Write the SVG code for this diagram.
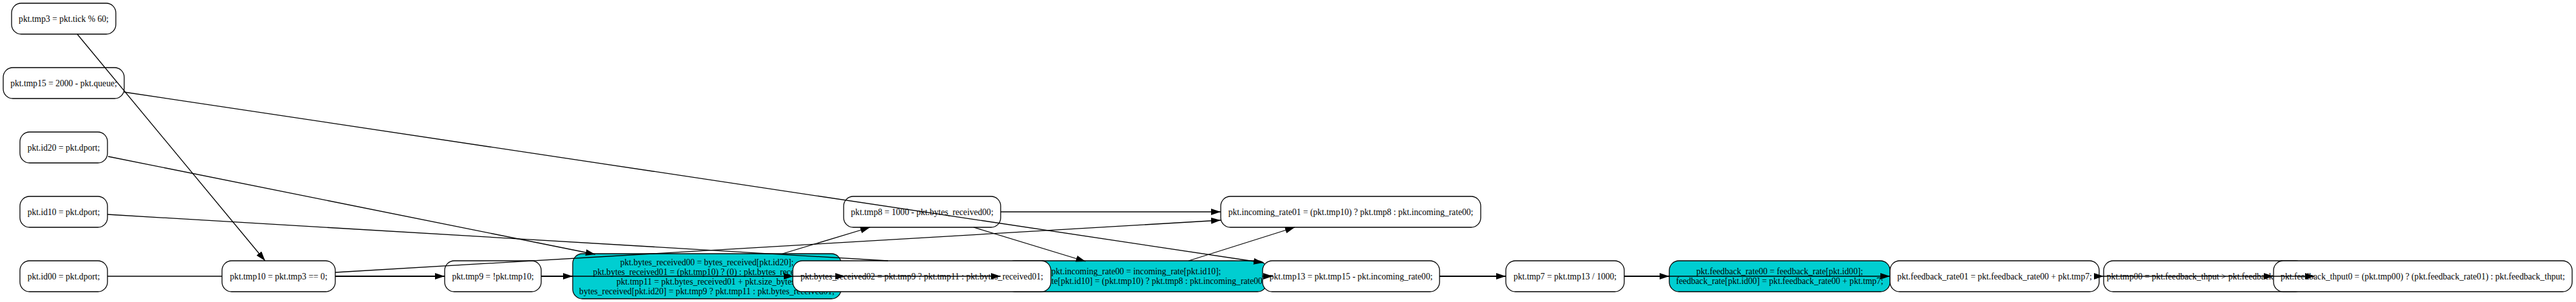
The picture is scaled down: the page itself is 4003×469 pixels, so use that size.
<svg xmlns="http://www.w3.org/2000/svg" width="4003" height="469" viewBox="0 0 4003 469">
<defs>
<marker id="ah" viewBox="0 0 15 10" refX="15" refY="5" markerWidth="15" markerHeight="10" markerUnits="userSpaceOnUse" orient="auto">
<path d="M0,0 L15,5 L0,10 z" fill="#000"/>
</marker>
<style>
.n rect{fill:#fff;stroke:#000;stroke-width:1.3}
.c rect{fill:#00CED1;stroke:#000;stroke-width:1.3}
text{font-family:"Liberation Serif","Times New Roman",serif;font-size:13.6px;fill:#000;text-anchor:middle}
.e line{stroke:#000;stroke-width:1.3;fill:none}
.e .a{marker-end:url(#ah)}
</style>
</defs>
<rect width="4003" height="469" fill="#fff"/>
<g id="n_tmp3" class="n"><rect x="18" y="5" width="162" height="48" rx="15"/><text x="99" y="34">pkt.tmp3 = pkt.tick % 60;</text></g>
<g id="n_tmp15" class="n"><rect x="5" y="105" width="188" height="48" rx="15"/><text x="99" y="134">pkt.tmp15 = 2000 - pkt.queue;</text></g>
<g id="n_id20" class="n"><rect x="31" y="205" width="136" height="48" rx="15"/><text x="99" y="234">pkt.id20 = pkt.dport;</text></g>
<g id="n_id10" class="n"><rect x="31" y="305" width="136" height="48" rx="15"/><text x="99" y="334">pkt.id10 = pkt.dport;</text></g>
<g id="n_id00" class="n"><rect x="31" y="405" width="136" height="48" rx="15"/><text x="99" y="434">pkt.id00 = pkt.dport;</text></g>
<g id="n_tmp10" class="n"><rect x="345" y="405" width="176" height="48" rx="15"/><text x="433" y="434">pkt.tmp10 = pkt.tmp3 == 0;</text></g>
<g id="n_tmp9" class="n"><rect x="691" y="405" width="150" height="48" rx="15"/><text x="766" y="434">pkt.tmp9 = !pkt.tmp10;</text></g>
<g id="n_br00" class="c"><rect x="890" y="394" width="417" height="70" rx="15"/>
<text x="1098.5" y="411.5">pkt.bytes_received00 = bytes_received[pkt.id20];</text>
<text x="1098.5" y="426.5">pkt.bytes_received01 = (pkt.tmp10) ? (0) : pkt.bytes_received00;</text>
<text x="1098.5" y="441.5">pkt.tmp11 = pkt.bytes_received01 + pkt.size_bytes;</text>
<text x="1098.5" y="456.5">bytes_received[pkt.id20] = pkt.tmp9 ? pkt.tmp11 : pkt.bytes_received01;</text></g>
<g id="n_tmp8" class="n"><rect x="1311" y="305" width="244" height="48" rx="15"/><text x="1433" y="334">pkt.tmp8 = 1000 - pkt.bytes_received00;</text></g>
<g id="n_inc00" class="c"><rect x="1562" y="405" width="407" height="48" rx="15"/>
<text x="1765.5" y="426">pkt.incoming_rate00 = incoming_rate[pkt.id10];</text>
<text x="1765.5" y="441">incoming_rate[pkt.id10] = (pkt.tmp10) ? pkt.tmp8 : pkt.incoming_rate00;</text></g>
<g id="n_br02" class="n"><rect x="1232" y="405" width="401" height="48" rx="15"/><text x="1432.5" y="434">pkt.bytes_received02 = pkt.tmp9 ? pkt.tmp11 : pkt.bytes_received01;</text></g>
<g id="n_inc01" class="n"><rect x="1897" y="305" width="404" height="48" rx="15"/><text x="2099" y="334">pkt.incoming_rate01 = (pkt.tmp10) ? pkt.tmp8 : pkt.incoming_rate00;</text></g>
<g id="n_tmp13" class="n"><rect x="1962" y="405" width="275" height="48" rx="15"/><text x="2099.5" y="434">pkt.tmp13 = pkt.tmp15 - pkt.incoming_rate00;</text></g>
<g id="n_tmp7" class="n"><rect x="2340" y="405" width="184" height="48" rx="15"/><text x="2432" y="434">pkt.tmp7 = pkt.tmp13 / 1000;</text></g>
<g id="n_fr00" class="c"><rect x="2594" y="405" width="343" height="48" rx="15"/>
<text x="2765.5" y="426">pkt.feedback_rate00 = feedback_rate[pkt.id00];</text>
<text x="2765.5" y="441">feedback_rate[pkt.id00] = pkt.feedback_rate00 + pkt.tmp7;</text></g>
<g id="n_fr01" class="n"><rect x="2937" y="405" width="325" height="48" rx="15"/><text x="3099.5" y="434">pkt.feedback_rate01 = pkt.feedback_rate00 + pkt.tmp7;</text></g>
<g id="n_tmp00" class="n"><rect x="3269" y="405" width="313" height="48" rx="15"/><text x="3425.5" y="434">pkt.tmp00 = pkt.feedback_thput &gt; pkt.feedback_rate01;</text></g>
<g id="n_fbt0" class="n"><rect x="3533" y="405" width="464" height="48" rx="15"/><text x="3765" y="434">pkt.feedback_thput0 = (pkt.tmp00) ? (pkt.feedback_rate01) : pkt.feedback_thput;</text></g>
<g id="connectors" class="e">
<line class="a" x1="120" y1="53" x2="412" y2="405"/>
<line class="a" x1="193" y1="143" x2="1963" y2="408"/>
<line class="a" x1="168" y1="243" x2="925" y2="395"/>
<line x1="167" y1="333" x2="1380" y2="405"/>
<line class="a" x1="521" y1="423" x2="1897" y2="342"/>
<line class="a" x1="1216" y1="394" x2="1352" y2="353"/>
<line class="a" x1="1555" y1="329" x2="1897" y2="329"/>
<line class="a" x1="1513" y1="353" x2="1687" y2="406"/>
<line class="a" x1="1847" y1="405" x2="2012" y2="353"/>
<line x1="167" y1="429" x2="345" y2="429"/>
<line class="a" x1="521" y1="429" x2="691" y2="429" style="stroke-width:1.8"/>
<line class="a" x1="841" y1="429" x2="890" y2="429" style="stroke-width:1.8"/>
<line class="a" x1="890" y1="429" x2="1233" y2="429"/>
<line class="a" x1="1233" y1="429" x2="1313" y2="429"/>
<line class="a" x1="1313" y1="429" x2="1555" y2="429"/>
<line class="a" x1="1962" y1="429" x2="1978" y2="429"/>
<line class="a" x1="2237" y1="429" x2="2340" y2="429" style="stroke-width:1.8"/>
<line class="a" x1="2524" y1="429" x2="2594" y2="429" style="stroke-width:1.8"/>
<line class="a" x1="2594" y1="429" x2="2937" y2="429"/>
<line class="a" x1="3262" y1="429" x2="3269" y2="429"/>
<line class="a" x1="3269" y1="429" x2="3533" y2="429"/>
<line class="a" x1="3533" y1="429" x2="3597" y2="429"/>
</g>
</svg>
